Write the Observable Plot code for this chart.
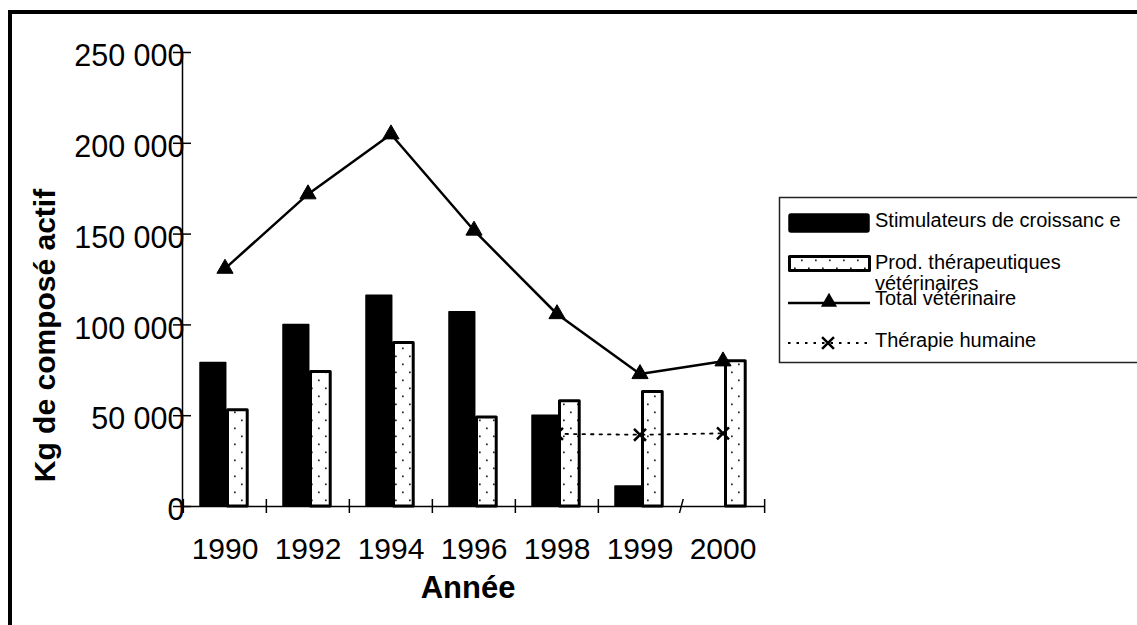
<!DOCTYPE html>
<html><head><meta charset="utf-8">
<script src="https://cdn.jsdelivr.net/npm/d3@7"></script>
<script src="https://cdn.jsdelivr.net/npm/@observablehq/plot@0.6"></script>
<style>
html,body{margin:0;padding:0;background:#fff;overflow:hidden;}
body{width:1137px;height:625px;position:relative;font-family:"Liberation Sans",Arial,sans-serif;}
#frame{position:absolute;left:8px;top:10px;width:1300px;height:800px;border:4.5px solid #000;box-sizing:border-box;}
#chart{position:absolute;left:0;top:0;}
#legend{position:absolute;left:0;top:0;pointer-events:none;}
</style></head><body>
<svg width="0" height="0" style="position:absolute">
<defs><pattern id="dots" patternUnits="userSpaceOnUse" width="14" height="16">
<rect width="14" height="16" fill="#fff"/>
<rect x="3" y="3.5" width="1.7" height="1.7" fill="#222"/>
<rect x="10" y="11.5" width="1.7" height="1.7" fill="#222"/>
</pattern></defs></svg>
<div id="frame"></div>
<div id="chart"></div>
<svg id="legend" width="1137" height="625"></svg>
<script>
// ---- data ----
const years = ["1990","1992","1994","1996","1998","1999","2000"];
const stimulateurs = [79000, 100000, 116000, 107000, 50000, 11000, null];
const prodTherapeutiques = [53000, 74000, 90000, 49000, 58000, 63000, 80000];
const totalVeterinaire = [131000, 172000, 205000, 152000, 106000, 73000, 80000];
const therapieHumaine = [null, null, null, null, 40000, 39500, 40300];
const yTicks = [0, 50000, 100000, 150000, 200000, 250000];
const seriesNames = ["Stimulateurs de croissanc e", "Prod. thérapeutiques", "vétérinaires", "Total vétérinaire", "Thérapie humaine"];
const xTitle = "Année";
const yTitle = "Kg de composé actif";

const rows = years.map((y, i) => ({year: y, stim: stimulateurs[i], prod: prodTherapeutiques[i], total: totalVeterinaire[i], hum: therapieHumaine[i]}));

const W = 1137, H = 625, mL = 182, mR = 372, mT = 52, mB = 119;
const plotW = W - mL - mR;
const bw = plotW / years.length;
const fmt = d => d3.format(",")(d).replace(/,/g, " ");
const font = "Liberation Sans, Arial, sans-serif";

const skew = (index, scales, values, dims, ctx, next) => {
  const g = next(index, scales, values, dims, ctx);
  d3.select(g).selectAll("line")
    .style("transform-box", "fill-box").style("transform-origin", "center").style("transform", "skewX(-15deg)");
  return g;
};
const tickOpts = {y1: 0, y2: 0, insetTop: -7, insetBottom: -7, stroke: "#000", strokeWidth: 1.5};

const chart = Plot.plot({
  width: W, height: H, marginLeft: mL, marginRight: mR, marginTop: mT, marginBottom: mB,
  style: {fontFamily: font, background: "transparent", color: "#000", overflow: "visible"},
  x: {type: "band", domain: years, padding: 0},
  y: {domain: [0, 250000]},
  marks: [
    Plot.barY(rows.filter(d => d.stim != null), {x: "year", y: "stim", fill: "#000", stroke: "#000", strokeWidth: 1.5, strokeLinejoin: "round", insetLeft: 17, insetRight: bw - 43}),
    Plot.barY(rows, {x: "year", y: "prod", fill: "url(#dots)", stroke: "#000", strokeWidth: 3, strokeLinejoin: "round", insetLeft: 44.5, insetRight: bw - 64.5}),
    Plot.frame({anchor: "left", stroke: "#000", strokeWidth: 1.5}),
    Plot.ruleY([0], {stroke: "#000", strokeWidth: 1.5}),
    Plot.ruleY(yTicks, {stroke: "#000", strokeWidth: 1.5, insetLeft: -9, insetRight: plotW - 9}),
    Plot.ruleX(years.slice(0, 6), {x: d => d, dx: -bw / 2, ...tickOpts}),
    Plot.ruleX(years.slice(-1), {x: d => d, dx: bw / 2, ...tickOpts}),
    Plot.ruleX(years.slice(-1), {x: d => d, dx: -bw / 2, ...tickOpts, render: skew}),
    Plot.axisY(yTicks, {tickSize: 0, tickPadding: -2, dy: 4, tickFormat: fmt, fontSize: 30.5, label: null}),
    Plot.axisX({tickSize: 0, tickPadding: 31, fontSize: 30, label: null}),
    Plot.text([xTitle], {text: d => d, frameAnchor: "bottom", textAnchor: "middle", lineAnchor: "middle", dy: 82, dx: -6, fontSize: 31, fontWeight: "bold"}),
    Plot.text([yTitle], {text: d => d, frameAnchor: "left", textAnchor: "middle", lineAnchor: "middle", rotate: -90, dx: -137, dy: 56, fontSize: 30, fontWeight: "bold"}),
    Plot.line(rows, {x: "year", y: "total", stroke: "#000", strokeWidth: 2.5}),
    Plot.dot(rows, {x: "year", y: "total", symbol: "triangle", r: 6, fill: "#000", stroke: "#000", strokeWidth: 1}),
    Plot.line(rows.filter(d => d.hum != null), {x: "year", y: "hum", stroke: "#000", strokeWidth: 1.8, strokeDasharray: "2.5,6"}),
    Plot.dot(rows.filter(d => d.hum != null), {x: "year", y: "hum", symbol: "times", r: 5.5, stroke: "#000", strokeWidth: 2.5})
  ]
});
document.getElementById("chart").appendChild(chart);

// ---- legend ----
const lg = d3.select("#legend").style("font-family", font);
lg.append("rect").attr("x", 779.5).attr("y", 197.5).attr("width", 400).attr("height", 165)
  .attr("fill", "#fff").attr("stroke", "#222").attr("stroke-width", 1.5);
lg.append("rect").attr("x", 789).attr("y", 214).attr("width", 80).attr("height", 18).attr("rx", 2)
  .attr("fill", "#000").attr("stroke", "#000").attr("stroke-width", 1.5);
lg.append("rect").attr("x", 789.5).attr("y", 256.5).attr("width", 80).attr("height", 14)
  .attr("fill", "url(#dots)").attr("stroke", "#000").attr("stroke-width", 3).attr("stroke-linejoin", "round");
lg.append("line").attr("x1", 788).attr("x2", 870).attr("y1", 303).attr("y2", 303).attr("stroke", "#000").attr("stroke-width", 2.5);
lg.append("path").attr("d", d3.symbol(d3.symbolTriangle, Math.PI * 36)()).attr("transform", "translate(829,302)").attr("fill", "#000");
lg.append("line").attr("x1", 788).attr("x2", 870).attr("y1", 343).attr("y2", 343).attr("stroke", "#000").attr("stroke-width", 1.8).attr("stroke-dasharray", "2.5,6");
lg.append("path").attr("d", d3.symbol(d3.symbolTimes, Math.PI * 30)()).attr("transform", "translate(828,343)").attr("fill", "none").attr("stroke", "#000").attr("stroke-width", 2.5);
const ly = [227, 269, 290, 305, 347];
seriesNames.forEach((t, i) => {
  lg.append("text").attr("x", 875).attr("y", ly[i]).attr("font-size", 20).attr("fill", "#000").text(t);
});
</script>
</body></html>
